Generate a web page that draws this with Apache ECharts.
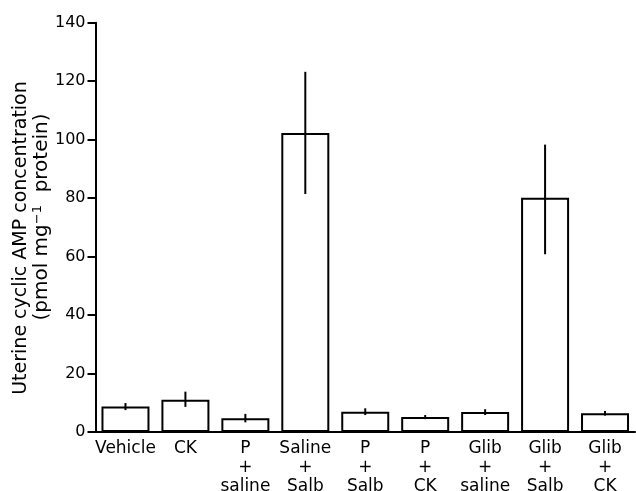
<!DOCTYPE html>
<html>
<head>
<meta charset="utf-8">
<script src="https://cdn.jsdelivr.net/npm/echarts@6/dist/echarts.min.js"></script>
<style>
html,body{margin:0;padding:0;background:#fff;}
#chart{width:636px;height:491px;}
</style>
</head>
<body>
<div id="chart"></div>
<script>
// groups, bar heights and error bar ends (pmol mg-1 protein)
var categories=['Vehicle','CK','P\n+\nsaline','Saline\n+\nSalb','P\n+\nSalb','P\n+\nCK','Glib\n+\nsaline','Glib\n+\nSalb','Glib\n+\nCK'];
var means=[8.7,11.0,4.7,102.3,6.9,5.1,6.8,80.1,6.4];
var errLow=[7.5,8.6,3.3,81.4,5.8,4.4,5.8,60.8,5.6];
var errHigh=[9.9,13.8,6.2,123.2,8.1,5.8,7.8,98.3,7.2];
var yTicks=[0,20,40,60,80,100,120,140];
var yTitle1='Uterine cyclic AMP concentration';
var yTitle2='(pmol mg{sup|\u22121}  protein)';

var FONT='DejaVu Sans';
var errData=[];
for(var i=0;i<categories.length;i++){
	errData.push([i,errLow[i],errHigh[i]]);
}

var chart=echarts.init(document.getElementById('chart'));
var option={
	animation:false,
	backgroundColor:'#fff',
	grid:{left:95.5,right:1,top:22.7,bottom:59,outerBoundsMode:'none'},
	//y轴标题两行位置不一样，用graphic画
	graphic:[
		{
			type:'text',
			x:21.5,y:238,
			rotation:Math.PI/2,
			style:{text:yTitle1,fill:'#000',fontFamily:FONT,fontSize:19,align:'center',verticalAlign:'middle'}
		},
		{
			type:'text',
			x:42,y:217,
			rotation:Math.PI/2,
			style:{
				text:yTitle2,fill:'#000',fontFamily:FONT,fontSize:20,lineHeight:22,
				align:'center',verticalAlign:'middle',
				rich:{sup:{fontFamily:FONT,fontSize:13,lineHeight:13,verticalAlign:'top',fill:'#000'}}
			}
		}
	],
	xAxis:{
		type:'category',
		data:categories,
		axisLine:{lineStyle:{color:'#000',width:2}},
		axisTick:{show:false},
		axisLabel:{interval:0,color:'#000',fontFamily:FONT,fontSize:17,lineHeight:19,margin:7}
	},
	yAxis:{
		type:'value',
		min:yTicks[0],
		max:yTicks[yTicks.length-1],
		interval:20,
		splitLine:{show:false},
		axisLine:{show:true,lineStyle:{color:'#000',width:2}},
		axisTick:{show:true,inside:false,length:8,lineStyle:{color:'#000',width:2}},
		axisLabel:{color:'#000',fontFamily:FONT,fontSize:16,margin:10}
	},
	series:[
		{
			type:'bar',
			data:means,
			barWidth:48,
			itemStyle:{color:'#fff',borderColor:'#000',borderWidth:2}
		},
		{
			type:'custom',
			data:errData,
			z:5,
			renderItem:function(params,api){
				var lo=api.coord([api.value(0),api.value(1)]);
				var hi=api.coord([api.value(0),api.value(2)]);
				return {
					type:'line',
					shape:{x1:lo[0],y1:lo[1],x2:hi[0],y2:hi[1]},
					style:{stroke:'#000',lineWidth:2}
				};
			}
		}
	]
};
chart.setOption(option);
</script>
</body>
</html>
